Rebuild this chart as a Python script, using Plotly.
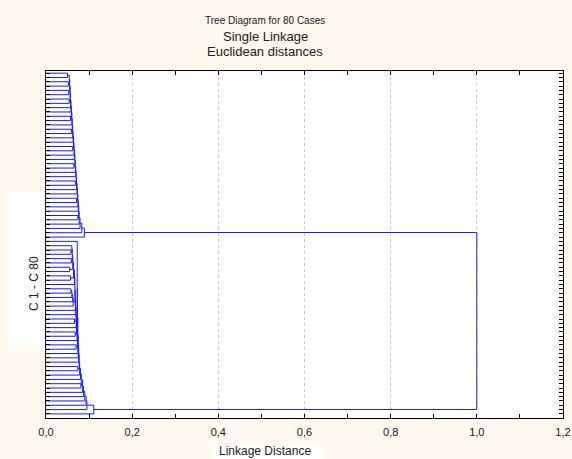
import plotly.graph_objects as go

# ---- data: single-linkage merge height between adjacent leaves (dendrogram order) ----
top_gaps = [0.050, 0.054, 0.052, 0.055, 0.053, 0.056, 0.054, 0.057, 0.058, 0.059,
            0.057, 0.060, 0.061, 0.059, 0.062, 0.063, 0.064, 0.062, 0.065, 0.066,
            0.067, 0.065, 0.068, 0.069, 0.070, 0.068, 0.071, 0.072, 0.073, 0.071,
            0.074, 0.075, 0.076, 0.074, 0.077, 0.079, 0.083, 0.089]
between_gap = [1.0]
bottom_gaps = [0.0725, 0.060, 0.058, 0.061, 0.059, 0.062, 0.055, 0.064, 0.057, 0.066,
               0.067, 0.058, 0.060, 0.062, 0.063, 0.068, 0.069, 0.070, 0.066, 0.070,
               0.071, 0.068, 0.072, 0.073, 0.070, 0.074, 0.075, 0.076, 0.077, 0.074,
               0.078, 0.080, 0.082, 0.081, 0.085, 0.087, 0.090, 0.093, 0.095, 0.111]
gaps = top_gaps + between_gap + bottom_gaps
n_leaves = len(gaps) + 1  # 80

x_tick_vals = [0.0, 0.2, 0.4, 0.6, 0.8, 1.0, 1.2]

# ---- build single linkage dendrogram by merging adjacent clusters ----
cluster_of = list(range(n_leaves))
clusters = {i: {"y": float(i), "h": 0.0, "lo": i, "hi": i} for i in range(n_leaves)}
xs, ys = [], []
order = sorted(range(len(gaps)), key=lambda i: gaps[i])
next_id = n_leaves
for gi in order:
    g = gaps[gi]
    a = cluster_of[gi]
    b = cluster_of[gi + 1]
    A, B = clusters[a], clusters[b]
    xs += [A["h"], g, g, B["h"], None]
    ys += [A["y"], A["y"], B["y"], B["y"], None]
    new = {"y": (A["y"] + B["y"]) / 2, "h": g, "lo": A["lo"], "hi": B["hi"]}
    clusters[next_id] = new
    for k in range(new["lo"], new["hi"] + 1):
        cluster_of[k] = next_id
    next_id += 1

fig = go.Figure()
fig.add_trace(go.Scatter(x=xs, y=ys, mode="lines",
                         line=dict(color="#1a1aff", width=1),
                         hoverinfo="skip", showlegend=False))

W, H = 572, 459
L, R, T, B = 46, 9, 71, 41
ph = H - T - B
pw = W - L - R

def px_x(px):
    return (px - L) / pw

def px_y(py):
    return (H - B - py) / ph

font = "Liberation Sans, Arial, sans-serif"
fig.update_layout(
    width=W, height=H,
    margin=dict(l=L, r=R, t=T, b=B, autoexpand=False),
    paper_bgcolor="#FFF9EF",
    plot_bgcolor="#FFFFFF",
    separators=",.",
    font=dict(family=font, size=11, color="#222222"),
    xaxis=dict(range=[0, 1.2], tickvals=x_tick_vals, tickformat=".1f",
               ticks="inside", ticklen=4, tickcolor="#000",
               minor=dict(dtick=0.1, ticks="inside", ticklen=4, tickcolor="#000", showgrid=False),
               showline=True, linecolor="#000", linewidth=1, mirror="ticks",
               showgrid=True, gridcolor="#c8c8c8", griddash="dot", gridwidth=1,
               zeroline=False, automargin=False, ticklabelstandoff=4,
               tickfont=dict(size=11, family=font, color="#222")),
    yaxis=dict(range=[n_leaves - 0.05, -0.5], tickvals=list(range(n_leaves)),
               showticklabels=False, ticks="inside", ticklen=4, tickcolor="#000",
               showline=True, linecolor="#000", linewidth=1, mirror="ticks",
               showgrid=False, zeroline=False, automargin=False),
    shapes=[
        dict(type="rect", xref="paper", yref="paper",
             x0=px_x(8), x1=px_x(45), y0=px_y(345), y1=px_y(192),
             fillcolor="#FFFFFF", line=dict(width=0), layer="below"),
        dict(type="rect", xref="paper", yref="paper",
             x0=px_x(212), x1=px_x(322), y0=px_y(462), y1=px_y(445),
             fillcolor="#FFFFFF", line=dict(width=0), layer="below"),
    ],
    annotations=[
        dict(text="Tree Diagram for 80 Cases", xref="paper", yref="paper",
             x=px_x(265), y=px_y(20), showarrow=False, xanchor="center", yanchor="middle",
             font=dict(size=10, family=font, color="#222")),
        dict(text="Single Linkage", xref="paper", yref="paper",
             x=px_x(265), y=px_y(36), showarrow=False, xanchor="center", yanchor="middle",
             font=dict(size=13, family=font, color="#222")),
        dict(text="Euclidean distances", xref="paper", yref="paper",
             x=px_x(265), y=px_y(52), showarrow=False, xanchor="center", yanchor="middle",
             font=dict(size=13, family=font, color="#222")),
        dict(text="C 1 - C 80", xref="paper", yref="paper",
             x=px_x(34), y=px_y(284), showarrow=False, xanchor="center", yanchor="middle",
             textangle=-90, font=dict(size=12, family=font, color="#222")),
        dict(text="Linkage Distance", xref="paper", yref="paper",
             x=px_x(265), y=px_y(451), showarrow=False, xanchor="center", yanchor="middle",
             font=dict(size=12, family=font, color="#222")),
    ],
)

fig.write_html("out.html", config={"displayModeBar": False},
               post_script="document.body.style.margin='0';document.body.style.overflow='hidden';")
